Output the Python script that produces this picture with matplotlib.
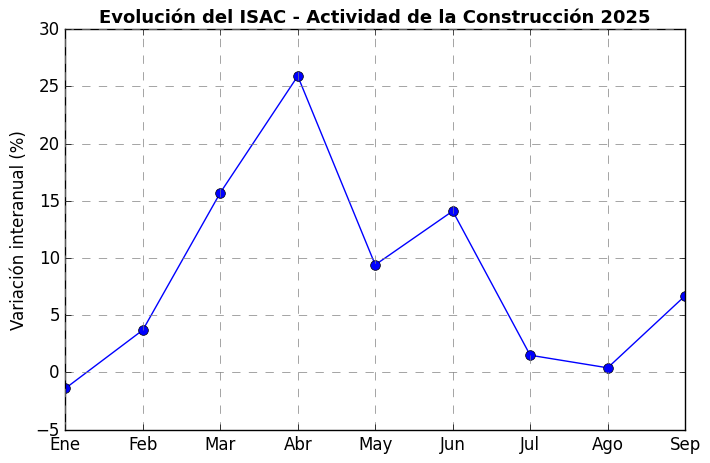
import matplotlib
matplotlib.use('Agg')
import matplotlib.pyplot as plt

plt.style.use('classic')

meses = ['Ene', 'Feb', 'Mar', 'Abr', 'May', 'Jun', 'Jul', 'Ago', 'Sep']
variacion = [-1.4, 3.7, 15.7, 25.9, 9.4, 14.1, 1.5, 0.4, 6.7]

fig, ax = plt.subplots(figsize=(7.1, 4.64), dpi=100)
fig.patch.set_facecolor('white')

x = list(range(len(meses)))
ax.plot(x, variacion, 'b-o', markersize=7, linewidth=1)

ax.set_xticks(x)
ax.set_xticklabels(meses)
ax.set_xlim(0, len(meses) - 1)
ax.set_ylim(-5, 30)

ax.set_title('Evolución del ISAC - Actividad de la Construcción 2025', fontweight='bold', fontsize=13)
ax.set_ylabel('Variación interanual (%)')
ax.grid(True, linestyle='--', color='gray', dashes=(6, 6))

fig.subplots_adjust(left=0.092, right=0.965, top=0.935, bottom=0.072)
fig.savefig('out.png', dpi=100, facecolor='white')
